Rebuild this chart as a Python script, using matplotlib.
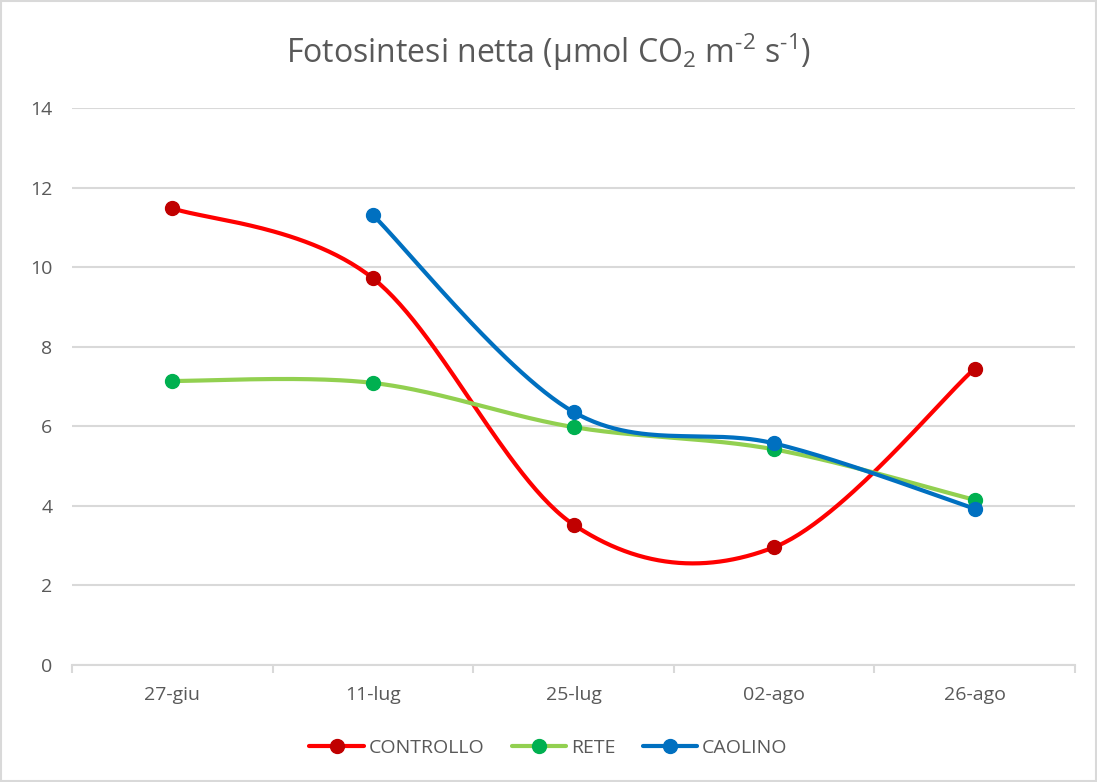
import numpy as np
import matplotlib
matplotlib.use("Agg")
import matplotlib.pyplot as plt
from matplotlib.lines import Line2D
from matplotlib.patches import Rectangle

plt.rcParams['font.family'] = ['Open Sans', 'DejaVu Sans']
plt.rcParams['mathtext.fontset'] = 'custom'
plt.rcParams['mathtext.rm'] = 'Open Sans'
plt.rcParams['mathtext.it'] = 'Open Sans'

dates = ["27-giu", "11-lug", "25-lug", "02-ago", "26-ago"]
controllo = [11.48, 9.72, 3.53, 2.96, 7.45]
rete = [7.14, 7.09, 5.98, 5.42, 4.15]
caolino = [None, 11.31, 6.36, 5.57, 3.93]

series = [
    ("CONTROLLO", controllo, "#FF0000", "#C00000"),
    ("RETE", rete, "#92D050", "#00B050"),
    ("CAOLINO", caolino, "#0070C0", "#0070C0"),
]

TEXT = "#595959"
GRID = "#D9D9D9"


def smooth(xs, ys, n=60):
    """Bezier smoothing in the style of spreadsheet 'smoothed lines'."""
    pts = np.column_stack([xs, ys]).astype(float)
    out = [pts[0]]
    m = len(pts)
    for i in range(m - 1):
        p0 = pts[i - 1] if i > 0 else pts[i]
        p1 = pts[i]
        p2 = pts[i + 1]
        p3 = pts[i + 2] if i + 2 < m else pts[i + 1]
        c1 = p1 + (p2 - p0) / 6.0
        c2 = p2 - (p3 - p1) / 6.0
        t = np.linspace(0, 1, n)[1:, None]
        seg = ((1 - t) ** 3) * p1 + 3 * ((1 - t) ** 2) * t * c1 \
            + 3 * (1 - t) * t ** 2 * c2 + t ** 3 * p2
        out.extend(seg)
    out = np.array(out)
    return out[:, 0], out[:, 1]


fig = plt.figure(figsize=(10.97, 7.82), dpi=100)
ax = fig.add_axes([72 / 1097, 117 / 782, 1003 / 1097, 557 / 782])

x = np.arange(len(dates))
for name, vals, lc, mc in series:
    xs = [xi for xi, v in zip(x, vals) if v is not None]
    ys = [v for v in vals if v is not None]
    sx, sy = smooth(xs, ys)
    ax.plot(sx, sy, color=lc, lw=3.0, solid_capstyle='round', zorder=3)
    ax.plot(xs, ys, 'o', color=mc, ms=10, mec=mc, zorder=4)

ax.set_xlim(-0.5, len(dates) - 0.5)
ax.set_ylim(0, 14)
ax.set_yticks(np.arange(0, 15, 2))
ax.set_xticks(x)
ax.set_xticklabels(dates)
ax.set_xticks(np.arange(-0.5, len(dates), 1.0), minor=True)
ax.tick_params(axis='y', length=0, pad=14, labelsize=14, labelcolor=TEXT)
ax.tick_params(axis='x', which='major', length=0, pad=15, labelsize=14, labelcolor=TEXT)
ax.tick_params(axis='x', which='minor', length=6, width=1.5, color=GRID, direction='out')
ax.grid(axis='y', color=GRID, lw=1.5, zorder=0)
for s in ['top', 'right', 'left']:
    ax.spines[s].set_visible(False)
ax.spines['bottom'].set_color(GRID)
ax.spines['bottom'].set_linewidth(1.5)
ax.set_axisbelow(True)

fig.text(0.5, 1 - 52 / 782, 'Fotosintesi netta (µmol CO$_2$ m$^{\u2010 2}$ s$^{\u2010 1}$)',
         ha='center', va='center', fontsize=23, color=TEXT)

handles = [Line2D([0], [0], color=lc, lw=3.0, marker='o', ms=10,
                  mfc=mc, mec=mc, solid_capstyle='round')
           for _, _, lc, mc in series]
fig.legend(handles, [s[0] for s in series], loc='center',
           bbox_to_anchor=(0.5, 1 - 748 / 782), ncol=3, frameon=False,
           fontsize=14, labelcolor=TEXT, handlelength=2.8, handletextpad=0.25,
           columnspacing=1.4)

fig.patches.append(Rectangle((0.001, 0.001), 0.998, 0.998, transform=fig.transFigure,
                             fill=False, edgecolor=GRID, lw=1.5))

fig.savefig("out.png", dpi=100)
